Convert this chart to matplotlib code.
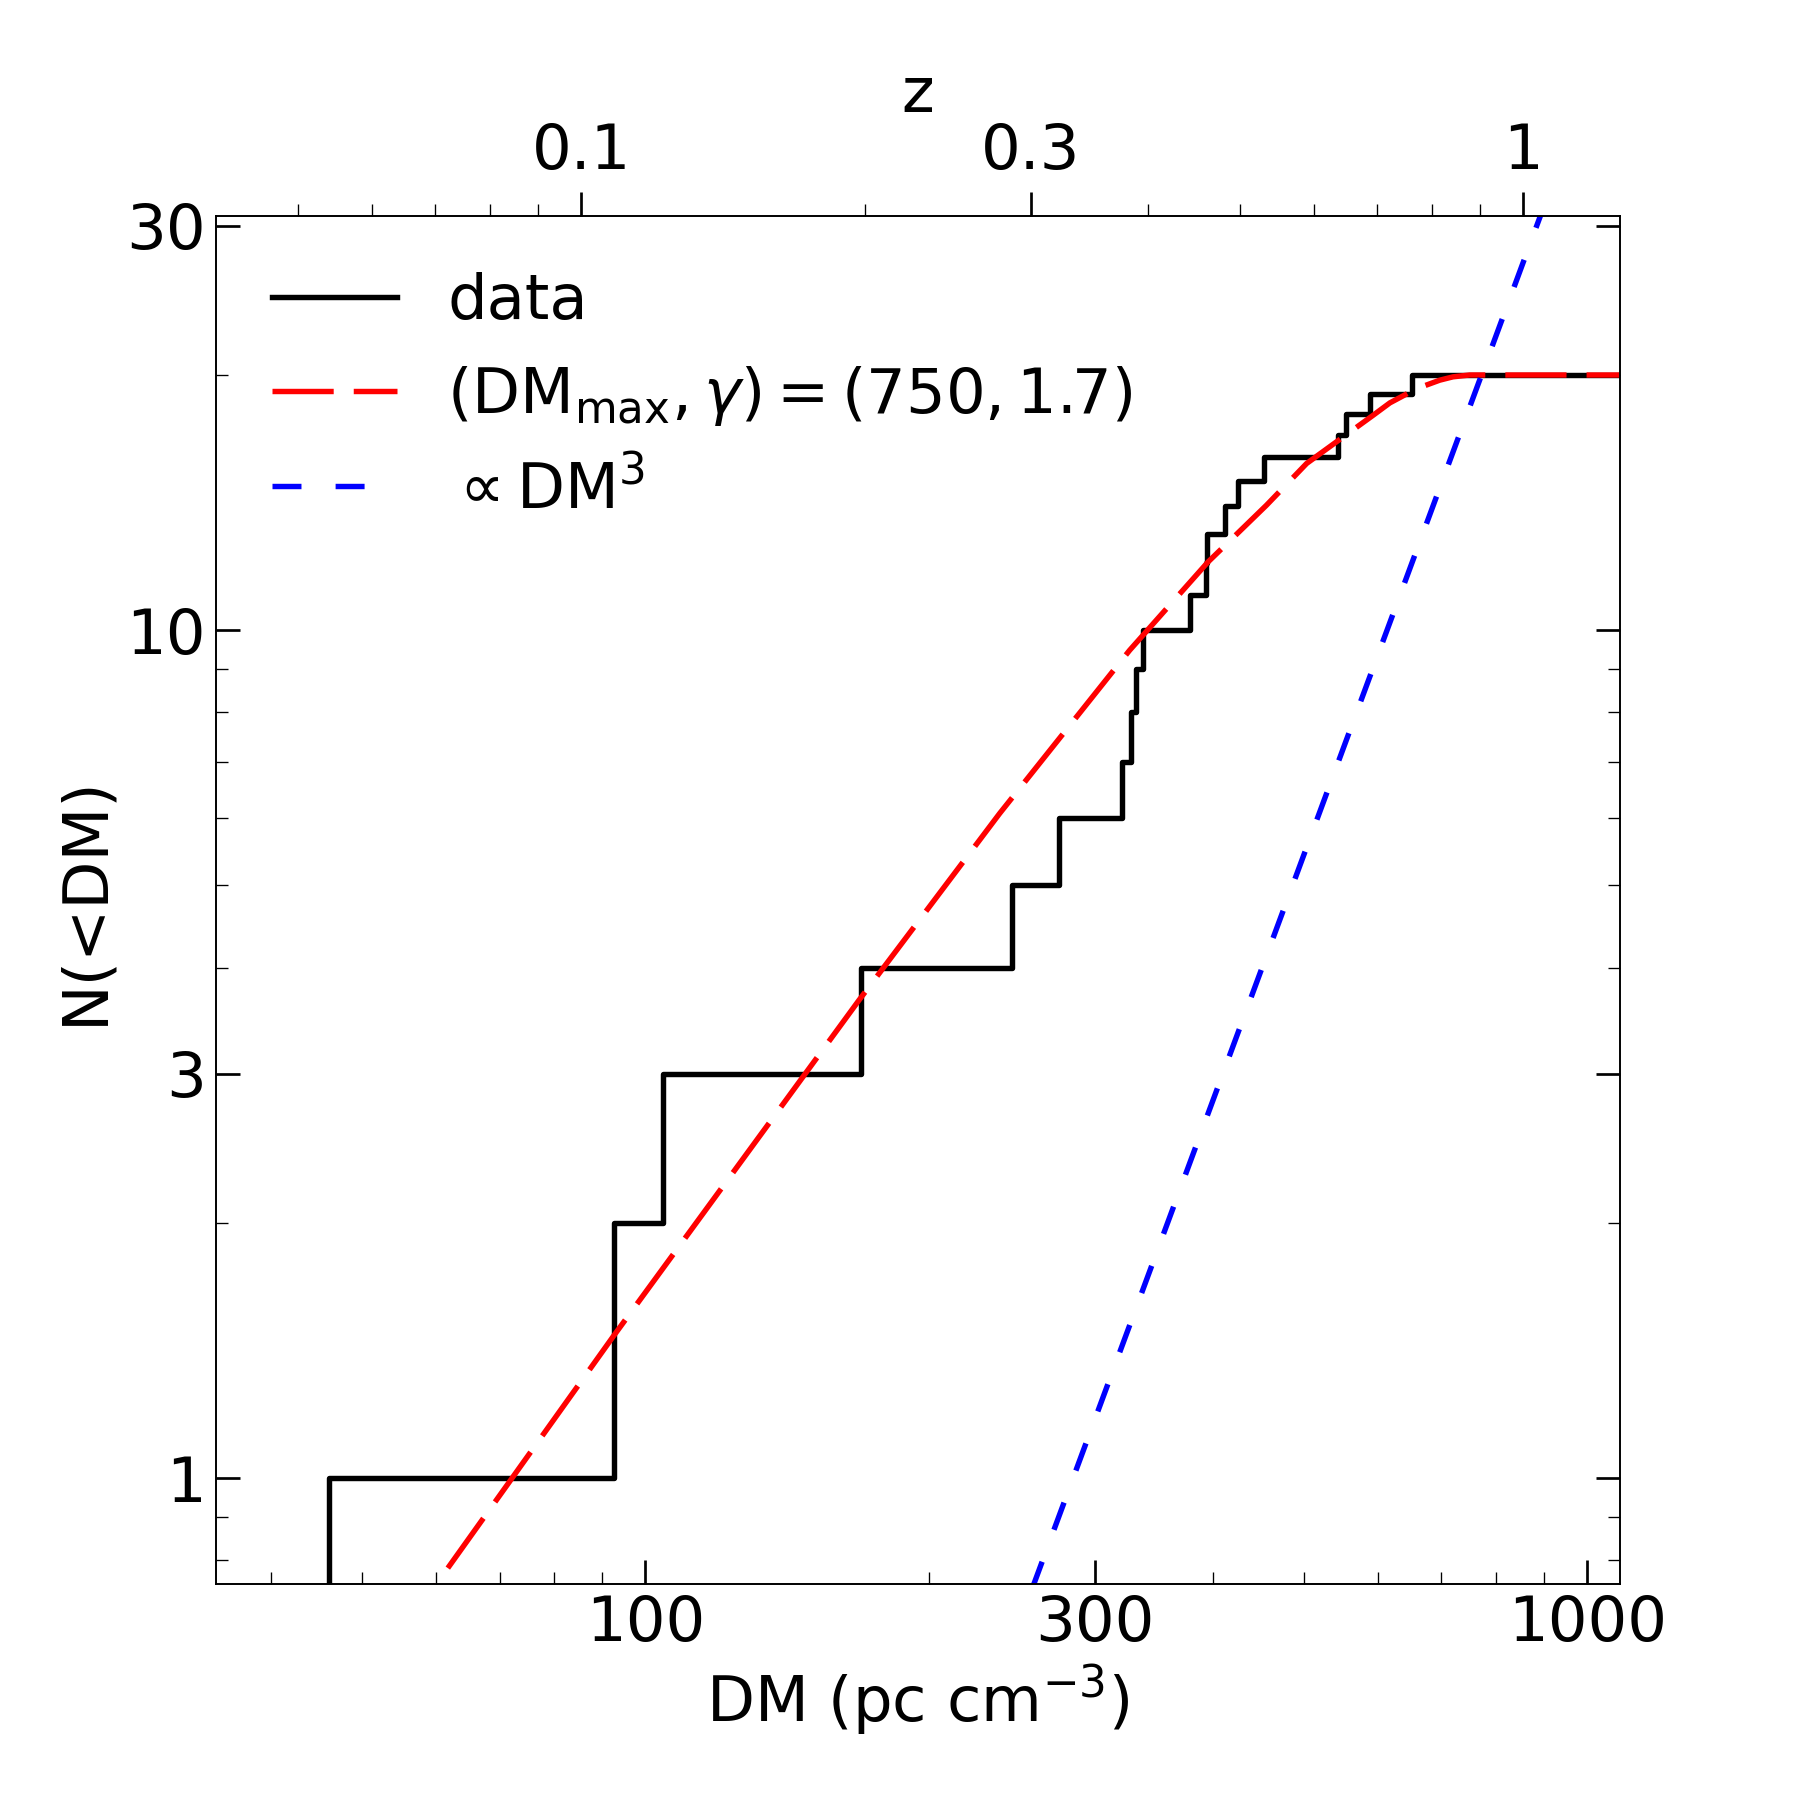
"""
Cumulative DM distribution N(<DM) with model curve and DM^3 reference line.
"""

import numpy as np
import matplotlib.pyplot as plt
from matplotlib.ticker import FixedLocator, NullFormatter

# ---- data ----
# DM of each burst (pc cm^-3), sorted
dm_data = [46.1, 92.5, 104.5, 169.4, 244.9, 274.8, 320.9, 328.1, 331.5, 337.5,
           378.8, 393.4, 394.5, 412.5, 425.2, 453.6, 543.6, 554.8, 587.5, 650.7]
n_data = list(range(1, len(dm_data) + 1))

# model curve, (DMmax, gamma) = (750, 1.7)
dm_model = [55, 60.2, 92.5, 168.5, 237.7, 326.6, 395.7, 456.3, 503.5,
            592.4, 617, 658.6, 697, 720, 750, 1100]
n_model = [0.654, 0.754, 1.471, 3.66, 6.08, 9.47, 12.04, 14.04, 15.73,
           17.93, 18.54, 19.27, 19.72, 19.9, 20, 20]

# N ~ DM^3 reference
dm_cube = [257.3, 772, 1029]
n_cube = [0.74, 20.0, 47.4]

# top axis: DM ~ 855 z
dm_per_z = 855.0

x_major = [100, 300, 1000]
x_minor = [40, 50, 60, 70, 80, 90, 200, 400, 500, 600, 700, 800, 900]
y_major = [1, 3, 10, 30]
y_minor = [0.8, 0.9, 2, 4, 5, 6, 7, 8, 9, 20]
z_major = [0.1, 0.3, 1]
z_minor = [0.05, 0.06, 0.07, 0.08, 0.09, 0.2, 0.4, 0.5, 0.6, 0.7, 0.8, 0.9]

xlim = (35, 1083)
ylim = (0.75, 30.8)

fs = 15
lw = 1.3

fig, ax = plt.subplots(figsize=(6, 6), dpi=300)
fig.subplots_adjust(left=0.12, right=0.9, bottom=0.12, top=0.88)

# step line, starting below the axis so the first jump is drawn
xs = [dm_data[0]] + dm_data + [2000]
ys = [0.1] + n_data + [n_data[-1]]
ax.step(xs, ys, where='post', color='black', lw=lw, label='data')
ax.plot(dm_model, n_model, color='red', lw=lw, linestyle=(0, (11.3, 3.7)),
        label=r'$(\mathrm{DM_{max}}, \gamma) = (750, 1.7)$')
ax.plot(dm_cube, n_cube, color='blue', lw=lw, linestyle=(0, (5.35, 6.3)),
        label=r'$\propto \mathrm{DM}^3$')

ax.set_xscale('log')
ax.set_yscale('log')
ax.set_xlim(xlim)
ax.set_ylim(ylim)

ax.set_xticks(x_major)
ax.set_xticklabels([str(v) for v in x_major])
ax.xaxis.set_minor_locator(FixedLocator(x_minor))
ax.xaxis.set_minor_formatter(NullFormatter())
ax.set_yticks(y_major)
ax.set_yticklabels([str(v) for v in y_major])
ax.yaxis.set_minor_locator(FixedLocator(y_minor))
ax.yaxis.set_minor_formatter(NullFormatter())

ax.tick_params(which='both', direction='in', top=False, right=True,
               labelsize=fs, pad=2.5)
ax.tick_params(which='major', length=5.8, width=0.65)
ax.tick_params(which='minor', length=2.9, width=0.32)

ax.set_xlabel(r'DM (pc cm$^{-3}$)', fontsize=fs, labelpad=2)
ax.set_ylabel('N(<DM)', fontsize=fs, labelpad=2.6)
ax.legend(loc='upper left', frameon=False, fontsize=fs)

# ---- redshift axis on top ----
ax2 = ax.twiny()
ax2.set_xscale('log')
ax2.set_xlim(xlim[0] / dm_per_z, xlim[1] / dm_per_z)
ax2.set_xticks(z_major)
ax2.set_xticklabels(['0.1', '0.3', '1'])
ax2.xaxis.set_minor_locator(FixedLocator(z_minor))
ax2.xaxis.set_minor_formatter(NullFormatter())
ax2.tick_params(which='both', direction='out', labelsize=fs, pad=2.3)
ax2.tick_params(which='major', length=5.8, width=0.65)
ax2.tick_params(which='minor', length=2.9, width=0.32)
ax2.set_xlabel('z', fontsize=fs, labelpad=2.5)

for a in (ax, ax2):
    for sp in a.spines.values():
        sp.set_linewidth(0.4)

fig.savefig('out.png', dpi=300)
